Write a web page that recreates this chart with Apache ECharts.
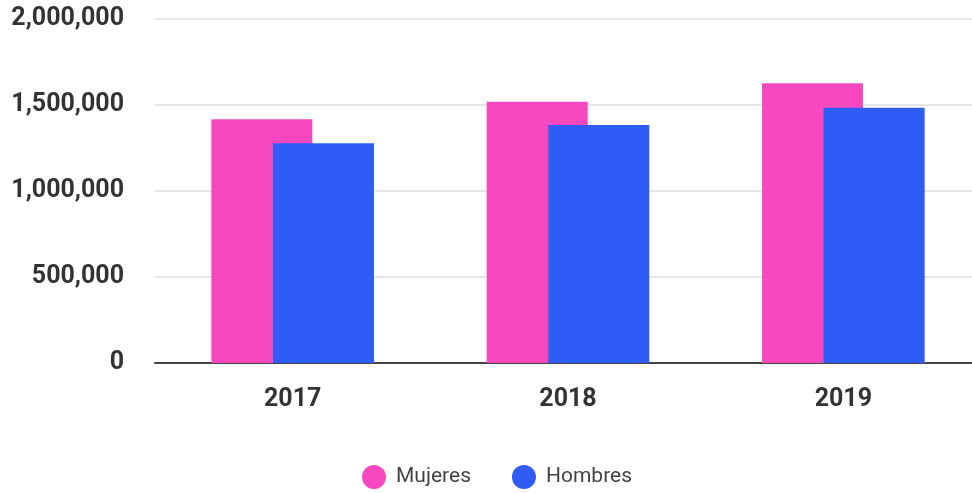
<!DOCTYPE html>
<html>
<head>
<meta charset="utf-8">
<script src="https://cdn.jsdelivr.net/npm/echarts@6/dist/echarts.min.js"></script>
<style>
  html, body { margin: 0; padding: 0; background: #fff; }
  #chart { width: 972px; height: 493px; }
</style>
</head>
<body>
<div id="chart"></div>
<script>
var years = ['2017', '2018', '2019'];
var mujeres = [1417000, 1519000, 1626000];
var hombres = [1277000, 1384000, 1484000];
var yTicks = [0, 500000, 1000000, 1500000, 2000000];

function chartInit(){
	var chart = echarts.init(document.getElementById('chart'));

	var option = {
		animation: false,
		color: ['#f748c0', '#2e5cf5'],
		grid: {
			left: 155,
			top: 19,
			width: 826,
			height: 344,
			outerBoundsMode: 'none'
		},
		legend: {
			data: ['Mujeres', 'Hombres'],
			left: 357,
			top: 460,
			icon: 'circle',
			itemWidth: 24,
			itemHeight: 24,
			itemGap: 41,
			textStyle: {
				fontFamily: 'Roboto',
				fontSize: 21,
				color: '#444',
				padding: [0, 0, 0, 5]
			}
		},
		xAxis: {
			type: 'category',
			data: years,
			axisLine: {
				lineStyle: { color: '#444', width: 2 }
			},
			axisTick: {
				alignWithLabel: true,
				length: 18,
				lineStyle: { color: '#333', width: 2 }
			},
			axisLabel: {
				margin: 24,
				fontFamily: 'Roboto',
				fontWeight: 'bold',
				fontSize: 25,
				color: '#333'
			}
		},
		yAxis: {
			type: 'value',
			min: yTicks[0],
			max: yTicks[yTicks.length - 1],
			interval: yTicks[1] - yTicks[0],
			axisLine: { show: false },
			axisTick: { show: false },
			splitLine: {
				lineStyle: { color: '#e6e6e6', width: 2 }
			},
			axisLabel: {
				margin: 31,
				fontFamily: 'Roboto',
				fontWeight: 'bold',
				fontSize: 25,
				color: '#333',
				formatter: function (v) {
					return v.toLocaleString('en-US');
				}
			}
		},
		series: [{
			name: 'Mujeres',
			type: 'bar',
			data: mujeres,
			barWidth: 101,
			barGap: '-39%'
		}, {
			name: 'Hombres',
			type: 'bar',
			data: hombres,
			barWidth: 101,
			barGap: '-39%'
		}]
	};

	chart.setOption(option);
}

chartInit();
</script>
</body>
</html>
